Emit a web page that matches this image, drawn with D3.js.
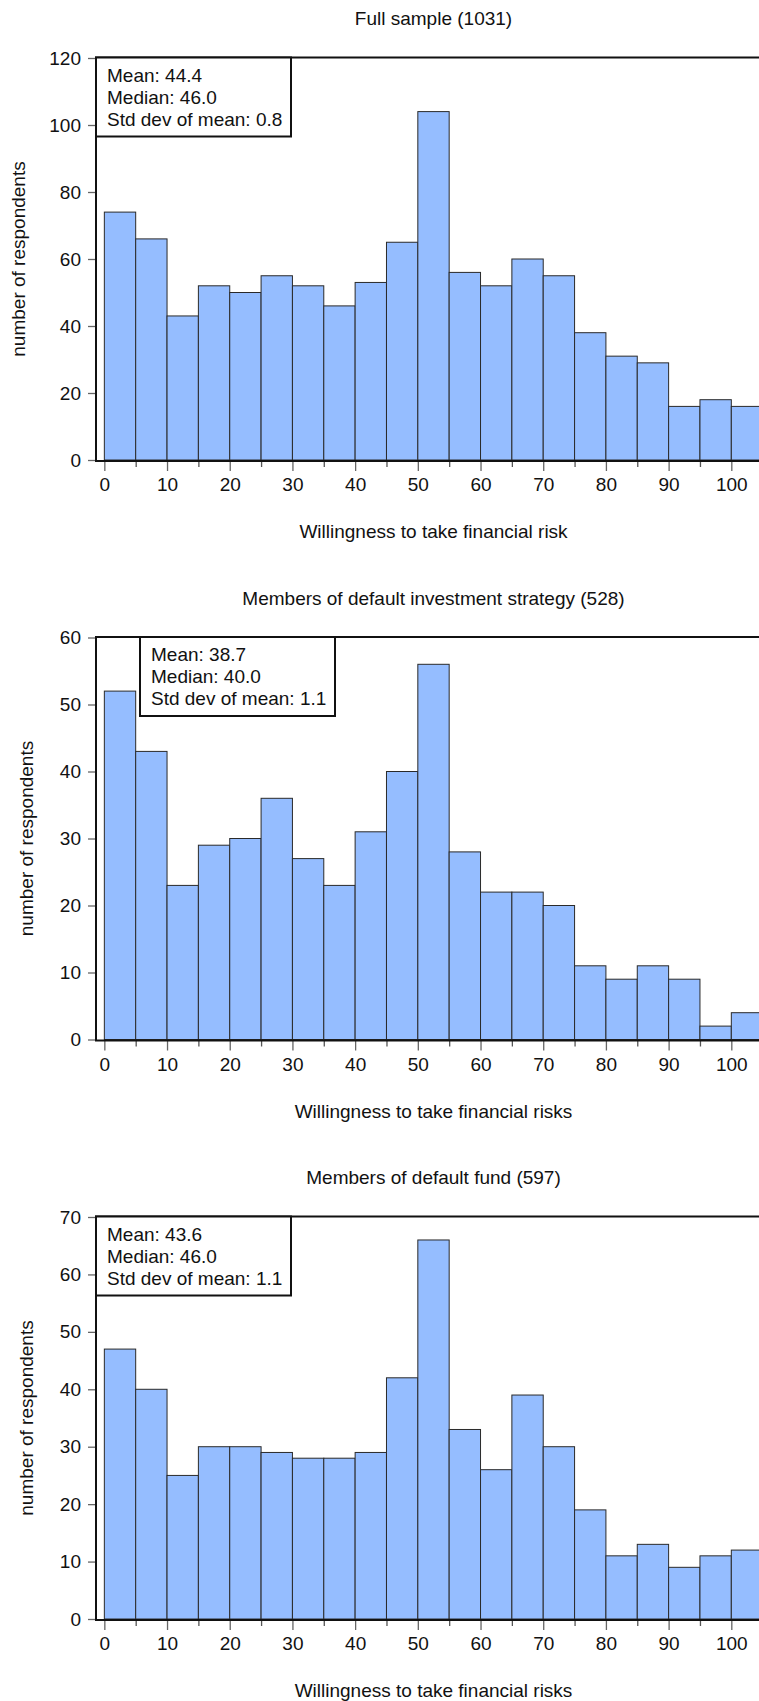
<!DOCTYPE html>
<html>
<head>
<meta charset="utf-8">
<script src="https://cdn.jsdelivr.net/npm/d3@7"></script>
<style>
  html, body { margin: 0; padding: 0; background: #fff; }
  svg { display: block; }
  text { font-family: "Liberation Sans", Arial, sans-serif; fill: #111; }
</style>
</head>
<body>
<svg id="chart" width="759" height="1701"></svg>
<script>
// Histogram bins: willingness score, 5-point wide bins starting at these values
const binStarts = [0, 5, 10, 15, 20, 25, 30, 35, 40, 45, 50, 55, 60, 65, 70, 75, 80, 85, 90, 95, 100];
const binWidth = 5;

// Respondent counts per bin
const fullSample      = [74, 66, 43, 52, 50, 55, 52, 46, 53, 65, 104, 56, 52, 60, 55, 38, 31, 29, 16, 18, 16];
const defaultStrategy = [52, 43, 23, 29, 30, 36, 27, 23, 31, 40, 56, 28, 22, 22, 20, 11, 9, 11, 9, 2, 4];
const defaultFund     = [47, 40, 25, 30, 30, 29, 28, 28, 29, 42, 66, 33, 26, 39, 30, 19, 11, 13, 9, 11, 12];

// Axis ticks
const xMajorTicks = [0, 10, 20, 30, 40, 50, 60, 70, 80, 90, 100];
const xMinorTicks = [5, 15, 25, 35, 45, 55, 65, 75, 85, 95, 105];
const yTicksFull     = [0, 20, 40, 60, 80, 100, 120];
const yTicksStrategy = [0, 10, 20, 30, 40, 50, 60];
const yTicksFund     = [0, 10, 20, 30, 40, 50, 60, 70];

// Panel titles, x-axis titles and summary statistics
const titles  = ["Full sample (1031)", "Members of default investment strategy (528)", "Members of default fund (597)"];
const xTitles = ["Willingness to take financial risk", "Willingness to take financial risks", "Willingness to take financial risks"];
const statsLines = [
  ["Mean: 44.4", "Median: 46.0", "Std dev of mean: 0.8"],
  ["Mean: 38.7", "Median: 40.0", "Std dev of mean: 1.1"],
  ["Mean: 43.6", "Median: 46.0", "Std dev of mean: 1.1"]
];

const panels = [
  { values: fullSample,      yTicks: yTicksFull,     title: titles[0], xTitle: xTitles[0], stats: statsLines[0], boxX: null },
  { values: defaultStrategy, yTicks: yTicksStrategy, title: titles[1], xTitle: xTitles[1], stats: statsLines[1], boxX: 140 },
  { values: defaultFund,     yTicks: yTicksFund,     title: titles[2], xTitle: xTitles[2], stats: statsLines[2], boxX: null }
];

const svg = d3.select("#chart");
const FONT = 19;
const barFill = "#95bdff";
const plotLeft = 96, plotRight = 771;
const panelStep = 579.5;
const plotTop = 58, plotBottom = 460;

const x = d3.scaleLinear().domain([-1.33, 106.33]).range([plotLeft, plotRight]);
const centerX = (plotLeft + plotRight) / 2;

panels.forEach((p, i) => {
  const g = svg.append("g").attr("transform", `translate(0,${i * panelStep})`);
  const yMax = d3.max(p.yTicks);
  const y = d3.scaleLinear().domain([0, yMax]).range([plotBottom, plotTop]);

  // title
  g.append("text")
    .attr("x", centerX).attr("y", 25)
    .attr("text-anchor", "middle")
    .style("font-size", FONT + "px")
    .text(p.title);

  // bars
  g.append("g").selectAll("rect")
    .data(p.values)
    .join("rect")
    .attr("x", (d, k) => x(binStarts[k]))
    .attr("width", (d, k) => x(binStarts[k] + binWidth) - x(binStarts[k]))
    .attr("y", d => y(d))
    .attr("height", d => y(0) - y(d))
    .attr("fill", barFill)
    .attr("stroke", "#2a2a2a")
    .attr("stroke-width", 1);

  // y axis
  const yAxis = d3.axisLeft(y).tickValues(p.yTicks).tickSize(8).tickPadding(7).tickFormat(d3.format("d"));
  const ya = g.append("g").attr("transform", `translate(${plotLeft},0)`).call(yAxis);
  ya.select(".domain").remove();
  ya.selectAll(".tick line").attr("stroke", "#666").attr("stroke-width", 1.3);
  ya.selectAll(".tick text").style("font-size", FONT + "px").attr("fill", "#111")
    .style("font-family", "'Liberation Sans', Arial, sans-serif");

  // x axis: major ticks with labels
  const xAxis = d3.axisBottom(x).tickValues(xMajorTicks).tickSize(10).tickPadding(7).tickFormat(d3.format("d"));
  const xa = g.append("g").attr("transform", `translate(0,${plotBottom + 1})`).call(xAxis);
  xa.select(".domain").remove();
  xa.selectAll(".tick line").attr("stroke", "#666").attr("stroke-width", 1.3);
  xa.selectAll(".tick text").style("font-size", FONT + "px").attr("fill", "#111")
    .style("font-family", "'Liberation Sans', Arial, sans-serif");

  // x axis: minor ticks
  const xm = d3.axisBottom(x).tickValues(xMinorTicks).tickSize(6).tickFormat("");
  const xma = g.append("g").attr("transform", `translate(0,${plotBottom + 1})`).call(xm);
  xma.select(".domain").remove();
  xma.selectAll(".tick line").attr("stroke", "#555").attr("stroke-width", 1.3);

  // frame: left, top and baseline
  g.append("path")
    .attr("d", `M${plotLeft},${plotBottom + 1}V${plotTop - 0.5}H${759 + 10}`)
    .attr("fill", "none").attr("stroke", "#111").attr("stroke-width", 2);
  g.append("line")
    .attr("x1", plotLeft - 1).attr("x2", 759 + 10)
    .attr("y1", plotBottom + 1).attr("y2", plotBottom + 1)
    .attr("stroke", "#111").attr("stroke-width", 2.2);

  // x axis title
  g.append("text")
    .attr("x", centerX).attr("y", 538)
    .attr("text-anchor", "middle")
    .style("font-size", FONT + "px")
    .text(p.xTitle);

  // y axis title
  const yTitleX = i === 0 ? 25 : 33;
  g.append("text")
    .attr("transform", `translate(${yTitleX},${(plotTop + plotBottom) / 2}) rotate(-90)`)
    .attr("text-anchor", "middle")
    .style("font-size", FONT + "px")
    .text("number of respondents");

  // summary statistics box
  const bx = p.boxX === null ? plotLeft : p.boxX;
  const by = plotTop - 0.5;
  const bw = 195, bh = 79;
  g.append("rect")
    .attr("x", bx).attr("y", by).attr("width", bw).attr("height", bh)
    .attr("fill", "#fff").attr("stroke", "#111").attr("stroke-width", 2);
  p.stats.forEach((line, k) => {
    g.append("text")
      .attr("x", bx + 11).attr("y", by + 24 + k * 22)
      .style("font-size", FONT + "px")
      .text(line);
  });
});
</script>
</body>
</html>
